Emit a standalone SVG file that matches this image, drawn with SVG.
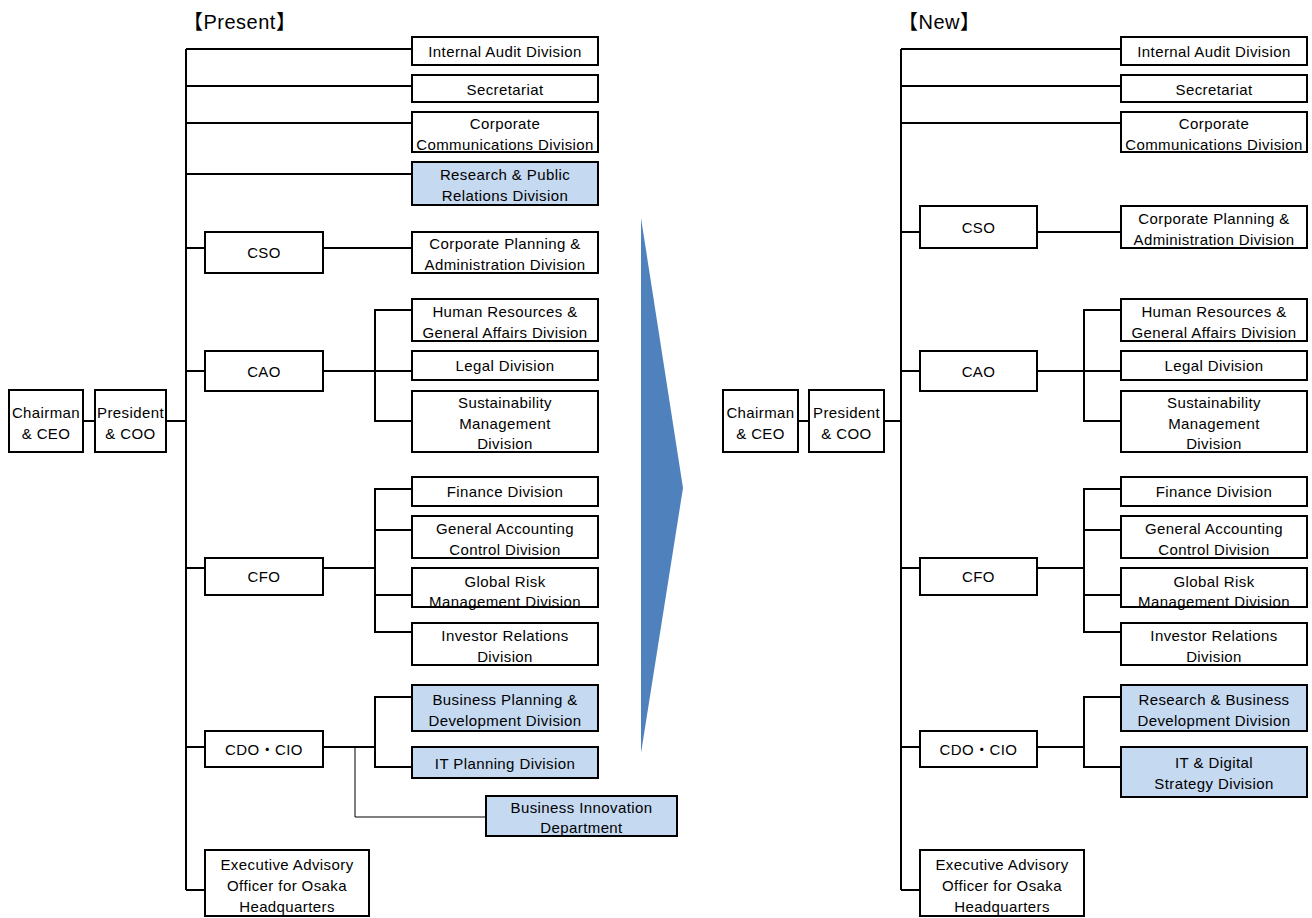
<svg xmlns="http://www.w3.org/2000/svg" width="1312" height="918" viewBox="0 0 1312 918">
<style>
.box{fill:#fff;stroke:#000;stroke-width:2}
.blue{fill:#c5d9f1}
text{font-family:"Liberation Sans","Noto Sans CJK JP",sans-serif;font-size:15px;fill:#000;text-anchor:middle;letter-spacing:0.4px}
.hd{font-size:20px;text-anchor:start;letter-spacing:0.5px}
.ln{fill:none;stroke:#000;stroke-width:2}
.thin{fill:none;stroke:#000;stroke-width:1}
</style>
<rect width="1312" height="918" fill="#fff"/>
<text class="hd" x="183" y="29">【Present】</text>
<text class="hd" x="898" y="29">【New】</text>
<polygon id="arrow" points="641,218 683,488 641,753" fill="#4f81bd"/>

<g id="connectors">
<path class="ln" d="M83,421H95M166,421H186M186,49V890M186,49H412M186,86H412M186,123H412M186,174H412M186,248H205M323,248H412M186,371H205M323,371H412M412,310H375V421H412M186,568H205M323,568H375M412,489H375V632H412M375,530H412M375,595H412M186,747H205M323,747H375M412,697H375V767H412M186,890H205"/>
<path class="thin" d="M355,747V817H486"/>
<path class="ln" d="M798,421H809M884,421H901M901,49V890M901,49H1121M901,86H1121M901,123H1121M901,232H920M1037,232H1121M901,371H920M1037,371H1121M1121,310H1084V421H1121M901,568H920M1037,568H1084M1121,489H1084V632H1121M1084,530H1121M1084,595H1121M901,747H920M1037,747H1084M1121,697H1084V767H1121M901,890H920"/>
</g>

<g id="L-chair"><rect class="box" x="9" y="390" width="74" height="62"/><text x="46" y="418">Chairman</text><text x="46" y="439">&amp; CEO</text></g>
<g id="L-pres"><rect class="box" x="95" y="390" width="71" height="62"/><text x="130.5" y="418">President</text><text x="130.5" y="439">&amp; COO</text></g>
<g id="L-ia"><rect class="box" x="412" y="37" width="186" height="28"/><text x="505" y="57">Internal Audit Division</text></g>
<g id="L-sec"><rect class="box" x="412" y="75" width="186" height="27"/><text x="505" y="94.5">Secretariat</text></g>
<g id="L-cc"><rect class="box" x="412" y="112" width="186" height="40"/><text x="505" y="129">Corporate</text><text x="505" y="150">Communications Division</text></g>
<g id="L-rpr"><rect class="box blue" x="412" y="162" width="186" height="43"/><text x="505" y="180">Research &amp; Public</text><text x="505" y="201">Relations Division</text></g>
<g id="L-cso"><rect class="box" x="205" y="232" width="118" height="41"/><text x="264" y="258">CSO</text></g>
<g id="L-cp"><rect class="box" x="412" y="232" width="186" height="41"/><text x="505" y="249">Corporate Planning &amp;</text><text x="505" y="270">Administration Division</text></g>
<g id="L-cao"><rect class="box" x="205" y="351" width="118" height="40"/><text x="264" y="376.5">CAO</text></g>
<g id="L-hr"><rect class="box" x="412" y="299" width="186" height="42"/><text x="505" y="317">Human Resources &amp;</text><text x="505" y="338">General Affairs Division</text></g>
<g id="L-legal"><rect class="box" x="412" y="351" width="186" height="29"/><text x="505" y="371">Legal Division</text></g>
<g id="L-sust"><rect class="box" x="412" y="391" width="186" height="61"/><text x="505" y="408">Sustainability</text><text x="505" y="429">Management</text><text x="505" y="449">Division</text></g>
<g id="L-cfo"><rect class="box" x="205" y="558" width="118" height="37"/><text x="264" y="582">CFO</text></g>
<g id="L-fin"><rect class="box" x="412" y="477" width="186" height="29"/><text x="505" y="497">Finance Division</text></g>
<g id="L-ga"><rect class="box" x="412" y="516" width="186" height="42"/><text x="505" y="534">General Accounting</text><text x="505" y="555">Control Division</text></g>
<g id="L-gr"><rect class="box" x="412" y="568" width="186" height="39"/><text x="505" y="587">Global Risk</text><text x="505" y="607">Management Division</text></g>
<g id="L-ir"><rect class="box" x="412" y="623" width="186" height="42"/><text x="505" y="641">Investor Relations</text><text x="505" y="662">Division</text></g>
<g id="L-cdo"><rect class="box" x="205" y="731" width="118" height="36"/><text x="264" y="755">CDO・CIO</text></g>
<g id="L-bpd"><rect class="box blue" x="412" y="685" width="186" height="46"/><text x="505" y="705">Business Planning &amp;</text><text x="505" y="726">Development Division</text></g>
<g id="L-itp"><rect class="box blue" x="412" y="747" width="186" height="31"/><text x="505" y="768.5">IT Planning Division</text></g>
<g id="L-bi"><rect class="box blue" x="486" y="796" width="191" height="40"/><text x="581.5" y="813">Business Innovation</text><text x="581.5" y="833">Department</text></g>
<g id="L-exec"><rect class="box" x="205" y="850" width="164" height="66"/><text x="287" y="870">Executive Advisory</text><text x="287" y="891">Officer for Osaka</text><text x="287" y="912">Headquarters</text></g>

<g id="R-chair"><rect class="box" x="723" y="390" width="75" height="62"/><text x="760.5" y="418">Chairman</text><text x="760.5" y="439">&amp; CEO</text></g>
<g id="R-pres"><rect class="box" x="809" y="390" width="75" height="62"/><text x="846.5" y="418">President</text><text x="846.5" y="439">&amp; COO</text></g>
<g id="R-ia"><rect class="box" x="1121" y="37" width="186" height="28"/><text x="1214" y="57">Internal Audit Division</text></g>
<g id="R-sec"><rect class="box" x="1121" y="75" width="186" height="27"/><text x="1214" y="94.5">Secretariat</text></g>
<g id="R-cc"><rect class="box" x="1121" y="112" width="186" height="40"/><text x="1214" y="129">Corporate</text><text x="1214" y="150">Communications Division</text></g>
<g id="R-cso"><rect class="box" x="920" y="206" width="117" height="42"/><text x="978.5" y="232.5">CSO</text></g>
<g id="R-cp"><rect class="box" x="1121" y="206" width="186" height="42"/><text x="1214" y="223.5">Corporate Planning &amp;</text><text x="1214" y="244.5">Administration Division</text></g>
<g id="R-cao"><rect class="box" x="920" y="351" width="117" height="40"/><text x="978.5" y="376.5">CAO</text></g>
<g id="R-hr"><rect class="box" x="1121" y="299" width="186" height="42"/><text x="1214" y="317">Human Resources &amp;</text><text x="1214" y="338">General Affairs Division</text></g>
<g id="R-legal"><rect class="box" x="1121" y="351" width="186" height="29"/><text x="1214" y="371">Legal Division</text></g>
<g id="R-sust"><rect class="box" x="1121" y="391" width="186" height="61"/><text x="1214" y="408">Sustainability</text><text x="1214" y="429">Management</text><text x="1214" y="449">Division</text></g>
<g id="R-cfo"><rect class="box" x="920" y="558" width="117" height="37"/><text x="978.5" y="582">CFO</text></g>
<g id="R-fin"><rect class="box" x="1121" y="477" width="186" height="29"/><text x="1214" y="497">Finance Division</text></g>
<g id="R-ga"><rect class="box" x="1121" y="516" width="186" height="42"/><text x="1214" y="534">General Accounting</text><text x="1214" y="555">Control Division</text></g>
<g id="R-gr"><rect class="box" x="1121" y="568" width="186" height="39"/><text x="1214" y="587">Global Risk</text><text x="1214" y="607">Management Division</text></g>
<g id="R-ir"><rect class="box" x="1121" y="623" width="186" height="42"/><text x="1214" y="641">Investor Relations</text><text x="1214" y="662">Division</text></g>
<g id="R-cdo"><rect class="box" x="920" y="731" width="117" height="36"/><text x="978.5" y="755">CDO・CIO</text></g>
<g id="R-rbd"><rect class="box blue" x="1121" y="685" width="186" height="46"/><text x="1214" y="705">Research &amp; Business</text><text x="1214" y="726">Development Division</text></g>
<g id="R-itd"><rect class="box blue" x="1121" y="747" width="186" height="50"/><text x="1214" y="768">IT &amp; Digital</text><text x="1214" y="789">Strategy Division</text></g>
<g id="R-exec"><rect class="box" x="920" y="850" width="164" height="66"/><text x="1002" y="870">Executive Advisory</text><text x="1002" y="891">Officer for Osaka</text><text x="1002" y="912">Headquarters</text></g>
</svg>
